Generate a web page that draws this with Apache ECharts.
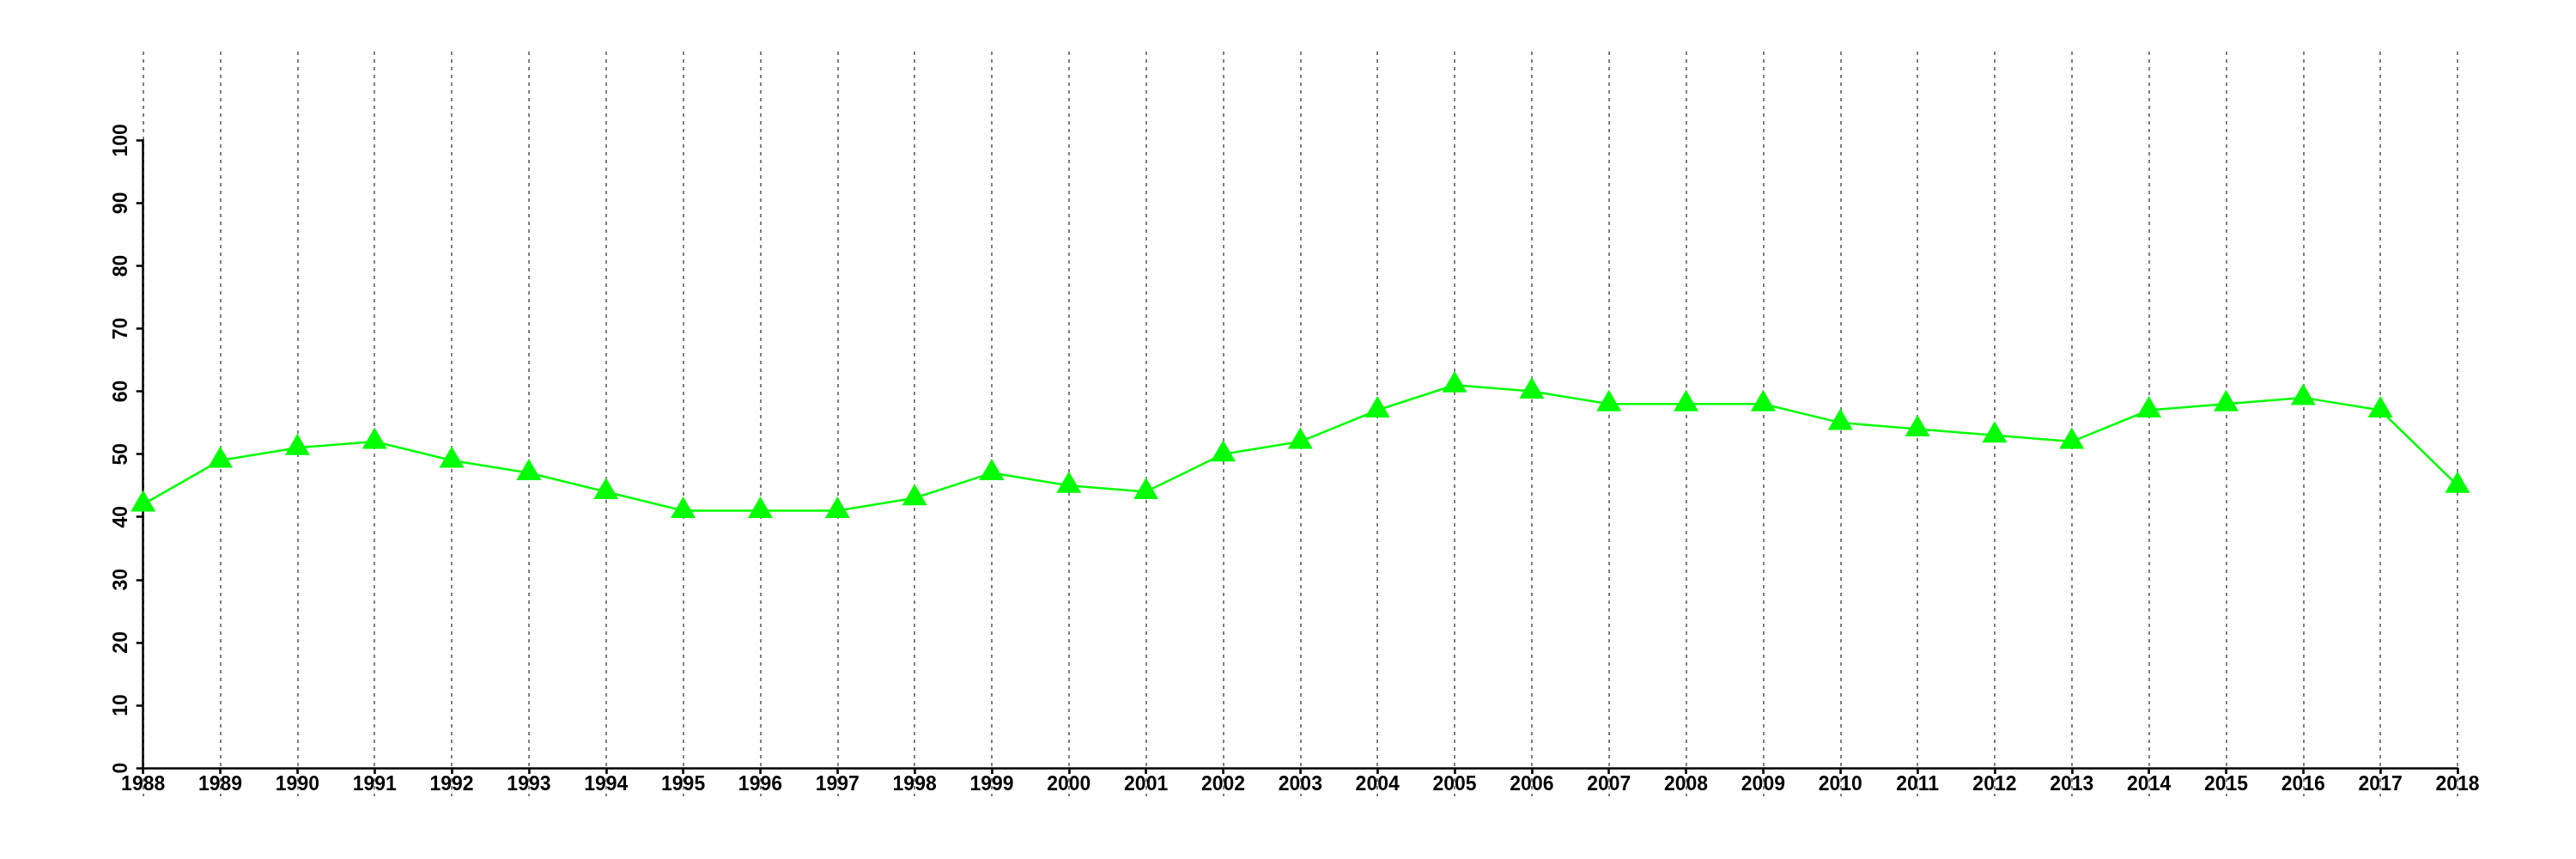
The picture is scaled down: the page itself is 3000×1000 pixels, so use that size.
<!DOCTYPE html>
<html>
<head>
<meta charset="utf-8">
<script src="https://cdn.jsdelivr.net/npm/echarts@6/dist/echarts.min.js"></script>
<style>html,body{margin:0;padding:0;background:#fff}#c{width:3000px;height:1000px}</style>
</head>
<body>
<div id="c"></div>
<script>
const years = ['1988','1989','1990','1991','1992','1993','1994','1995','1996','1997','1998','1999','2000','2001','2002','2003','2004','2005','2006','2007','2008','2009','2010','2011','2012','2013','2014','2015','2016','2017','2018'];
const values = [42,49,51,52,49,47,44,41,41,41,43,47,45,44,50,52,57,61,60,58,58,58,55,54,53,52,57,58,59,57,45];
const yMin = 0, yMax = 100, yStep = 10;

const FONT = 'Liberation Sans';
const chart = echarts.init(document.getElementById('c'), null, {renderer: 'canvas'});
const L = 166.7, R = 3000 - 2862;
chart.setOption({
  animation: false,
  backgroundColor: '#ffffff',
  grid: [
    {left: L, right: R, top: 60, bottom: 1000 - 927},
    {left: L, right: R, top: 163.3, bottom: 1000 - 894}
  ],
  xAxis: [
    {gridIndex: 0, type: 'category', data: years, boundaryGap: false,
     axisLine: {show: false}, axisTick: {show: false}, axisLabel: {show: false},
     splitLine: {show: true, lineStyle: {color: '#7f7f7f', width: 2, type: [4, 5]}}},
    {gridIndex: 1, type: 'category', data: years, boundaryGap: false,
     axisLine: {show: true, lineStyle: {color: '#000', width: 2.5}},
     axisTick: {show: true, inside: false, length: 7, alignWithLabel: true, lineStyle: {color: '#000', width: 2.5}},
     axisLabel: {show: true, interval: 0, margin: 8, color: '#000', fontFamily: FONT, fontWeight: 'bold', fontSize: 23},
     splitLine: {show: false}, z: 5}
  ],
  yAxis: [
    {gridIndex: 0, type: 'value', min: 0, max: 1, show: false, splitLine: {show: false}},
    {gridIndex: 1, type: 'value', min: yMin, max: yMax, interval: yStep,
     axisLine: {show: true, lineStyle: {color: '#000', width: 2.5}},
     axisTick: {show: true, inside: false, length: 8, lineStyle: {color: '#000', width: 2.5}},
     axisLabel: {show: true, rotate: 90, margin: 14, color: '#000', fontFamily: FONT, fontWeight: 'bold', fontSize: 23},
     splitLine: {show: false}}
  ],
  series: [{
    type: 'line', xAxisIndex: 1, yAxisIndex: 1, data: values,
    symbol: 'triangle', symbolSize: [29, 25], symbolOffset: [0, -4], showAllSymbol: true,
    lineStyle: {color: '#00ff00', width: 2.5},
    itemStyle: {color: '#00ff00', borderWidth: 0},
    z: 10
  }]
});
</script>
</body>
</html>
